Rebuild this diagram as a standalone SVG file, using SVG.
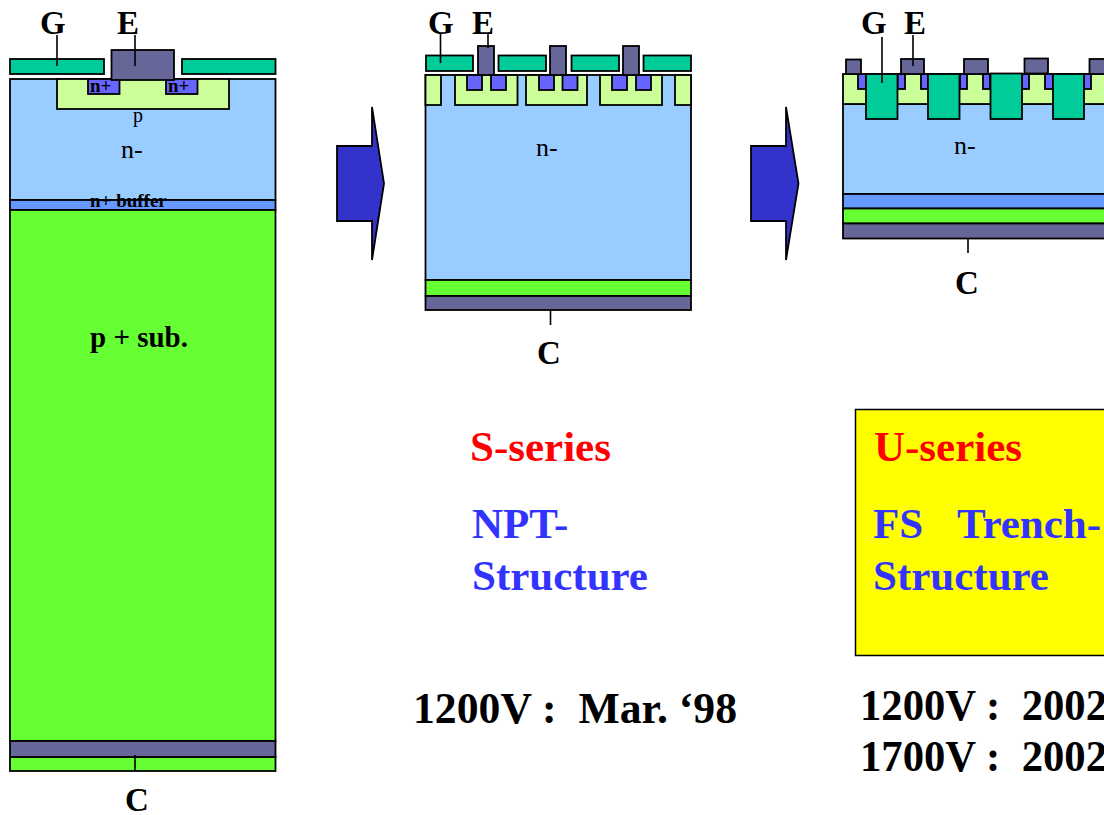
<svg xmlns="http://www.w3.org/2000/svg" width="1104" height="815" viewBox="0 0 1104 815">
<style>
.s{stroke:#000;stroke-width:1.8}
.nm{fill:#99ccff}.nb{fill:#6699ff}.pp{fill:#66ff33}.pu{fill:#666699}.gt{fill:#00cc99}.pl{fill:#ccff99}.np{fill:#6666ff}
.ln{stroke:#000;stroke-width:1.6;fill:none}
text{font-family:"Liberation Serif","Times New Roman",serif;fill:#000}
.b{font-weight:bold}
.t{font-size:33px;font-weight:bold}
.r{font-size:43px;font-weight:bold;fill:#ff0000}
.u{font-size:43px;font-weight:bold;fill:#3333ff}
.d{font-size:44px;font-weight:bold}
</style>
<rect width="1104" height="815" fill="#fff"/>
<g id="device-left">
<rect class="s nm" x="10" y="79" width="265.500" height="121"/>
<rect class="s nb" x="10" y="200" width="265.500" height="10"/>
<rect class="s pp" x="10" y="210" width="265.500" height="531"/>
<rect class="s pp" x="10" y="757" width="265.500" height="14"/>
<rect class="s pu" x="10" y="741" width="265.500" height="16"/>
<rect class="s pl" x="57" y="79" width="172" height="30"/>
<rect class="s np" x="88" y="79" width="31.500" height="15"/>
<rect class="s np" x="166" y="79" width="31.500" height="15"/>
<rect class="s gt" x="10" y="59" width="94" height="15"/>
<rect class="s gt" x="182" y="59" width="93.500" height="15"/>
<rect class="s pu" x="111.500" y="50" width="62.500" height="30"/>
<text class="b" x="90" y="92" font-size="19">n+</text>
<text class="b" x="168" y="92" font-size="19">n+</text>
<text x="133" y="122" font-size="20">p</text>
<text x="121" y="158" font-size="26">n-</text>
<text class="b" x="90" y="207" font-size="19">n+ buffer</text>
<text class="b" x="90" y="347" font-size="29">p + sub.</text>
<text class="t" x="40" y="34">G</text>
<text class="t" x="117" y="34">E</text>
<text class="t" x="125" y="811">C</text>
</g>
<g id="device-middle">
<rect class="s nm" x="425.500" y="75" width="265.500" height="205"/>
<rect class="s pp" x="425.500" y="280" width="265.500" height="16"/>
<rect class="s pu" x="425.500" y="296" width="265.500" height="14"/>
<rect class="s pl" x="425.500" y="75" width="15.500" height="30"/>
<rect class="s pl" x="455" y="75" width="62.500" height="30"/>
<rect class="s pl" x="526" y="75" width="61" height="30"/>
<rect class="s pl" x="600" y="75" width="62" height="30"/>
<rect class="s pl" x="675" y="75" width="16" height="30"/>
<rect class="s np" x="467" y="75" width="15" height="15"/>
<rect class="s np" x="491" y="75" width="15" height="15"/>
<rect class="s np" x="539" y="75" width="15" height="15"/>
<rect class="s np" x="562.500" y="75" width="15" height="15"/>
<rect class="s np" x="612" y="75" width="15" height="15"/>
<rect class="s np" x="636" y="75" width="15" height="15"/>
<rect class="s gt" x="426" y="55.500" width="47" height="15.500"/>
<rect class="s gt" x="498.500" y="55.500" width="47.500" height="15.500"/>
<rect class="s gt" x="571.500" y="55.500" width="47.500" height="15.500"/>
<rect class="s gt" x="643.500" y="55.500" width="47.500" height="15.500"/>
<rect class="s pu" x="478" y="46" width="16" height="29"/>
<rect class="s pu" x="550" y="46" width="16" height="29"/>
<rect class="s pu" x="623" y="46" width="16" height="29"/>
<text x="536" y="156" font-size="26">n-</text>
<text class="t" x="428" y="34">G</text>
<text class="t" x="472" y="34">E</text>
<text class="t" x="537" y="364">C</text>
</g>
<g id="device-right">
<rect class="s nm" x="843" y="104" width="270" height="90"/>
<rect class="s nb" x="843" y="194" width="270" height="14.500"/>
<rect class="s pp" x="843" y="208.500" width="270" height="15"/>
<rect class="s pu" x="843" y="223.500" width="270" height="15"/>
<rect class="s pl" x="843" y="74" width="270" height="30"/>
<rect class="s np" x="858" y="74" width="8" height="15"/>
<rect class="s np" x="897.500" y="74" width="7.500" height="15"/>
<rect class="s np" x="921" y="74" width="7" height="15"/>
<rect class="s np" x="960" y="74" width="7" height="15"/>
<rect class="s np" x="983" y="74" width="7" height="15"/>
<rect class="s np" x="1022" y="74" width="7" height="15"/>
<rect class="s np" x="1045" y="74" width="8" height="15"/>
<rect class="s np" x="1084" y="74" width="7" height="15"/>
<rect class="s gt" x="866" y="74" width="31.500" height="45"/>
<rect class="s gt" x="928" y="74" width="31.500" height="45"/>
<rect class="s gt" x="990.500" y="73.500" width="31.500" height="45.500"/>
<rect class="s gt" x="1053" y="74" width="31" height="45"/>
<rect class="s pu" x="846" y="59.500" width="15" height="14.500"/>
<rect class="s pu" x="901" y="59" width="23" height="15"/>
<rect class="s pu" x="964" y="59" width="24" height="15"/>
<rect class="s pu" x="1024.500" y="58.500" width="23.500" height="15"/>
<rect class="s pu" x="1089.500" y="59" width="24" height="15"/>
<text x="954" y="154" font-size="26">n-</text>
<text class="t" x="861" y="34">G</text>
<text class="t" x="904" y="34">E</text>
<text class="t" x="955" y="294">C</text>
</g>
<g id="arrow-1"><polygon class="s" fill="#3333cc" points="337,146 372,146 372,107 384,183.500 372,260 372,221 337,221"/></g>
<g id="arrow-2"><polygon class="s" fill="#3333cc" points="751,146 786,146 786,107 798.500,183.500 786,260 786,221 751,221"/></g>
<g id="connectors">
<path class="ln" d="M57 35V66M135 35V66M135 755V771M440.500 33V63M488 33V48M882 37V83M913 35V66M550.500 310V325M968 238V253"/>
</g>
<g id="label-s">
<text class="r" x="470" y="461">S-series</text>
<text class="u" x="472" y="538">NPT-</text>
<text class="u" x="472" y="590">Structure</text>
<text class="d" x="413" y="723" xml:space="preserve" textLength="324" lengthAdjust="spacingAndGlyphs">1200V :  Mar. ‘98</text>
</g>
<g id="label-u">
<rect x="855.500" y="409.500" width="260" height="246" fill="#ffff00" stroke="#000" stroke-width="1.500"/>
<text class="r" x="874" y="461">U-series</text>
<text class="u" x="873" y="538" xml:space="preserve" word-spacing="6.500">FS  Trench-</text>
<text class="u" x="873" y="590">Structure</text>
<text class="d" x="860" y="720" xml:space="preserve" textLength="247" lengthAdjust="spacingAndGlyphs">1200V :  2002</text>
<text class="d" x="860" y="771" xml:space="preserve" textLength="247" lengthAdjust="spacingAndGlyphs">1700V :  2002</text>
</g>
</svg>
